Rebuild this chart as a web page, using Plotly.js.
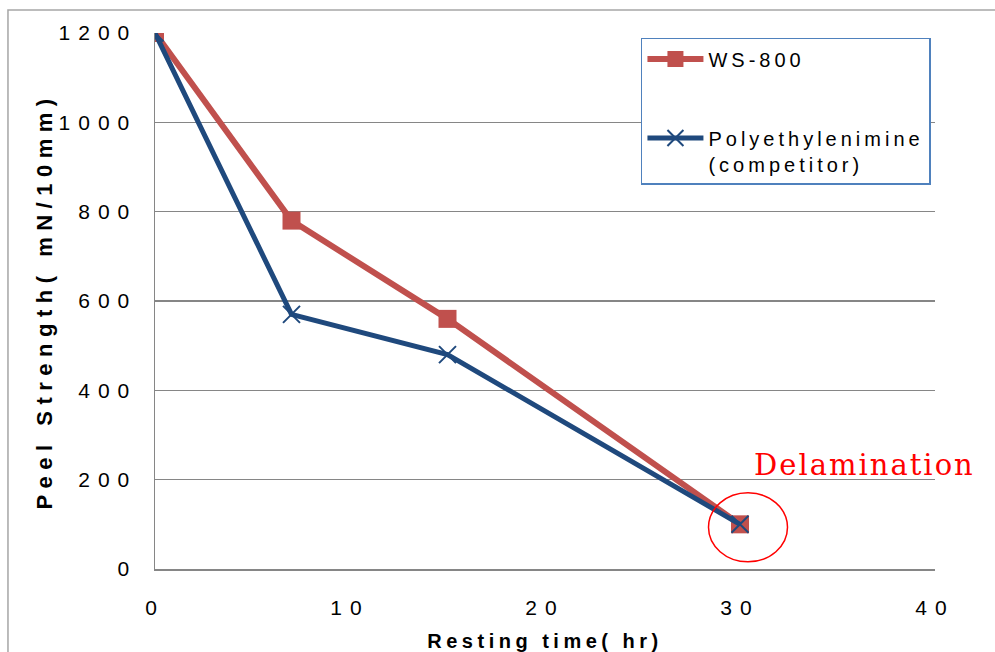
<!DOCTYPE html>
<html>
<head>
<meta charset="utf-8">
<script src="https://cdn.plot.ly/plotly-3.0.1.min.js"></script>
<style>
  html, body { margin: 0; padding: 0; background: #fff; }
  #chart { width: 995px; height: 652px; }
  .xtick text, .ytick text { letter-spacing: 8px; }
  .legendtext { letter-spacing: 4px; }
  .g-xtitle text { letter-spacing: 4.5px; }
  .g-ytitle text { letter-spacing: 6.5px; }
  .annotation-text { letter-spacing: 2px; }
</style>
</head>
<body>
<div id="chart"></div>
<script>
// Data
const restingTime = [0, 7, 15, 30];
const ws800 = [1200, 780, 560, 100];
const polyethylenimine = [1200, 570, 480, 100];
const seriesNames = ["WS-800", "Polyethylenimine<br>(competitor)"];
const xTickVals = [0, 10, 20, 30, 40];
const yTickVals = [0, 200, 400, 600, 800, 1000, 1200];
const xTitle = "Resting time( hr)";
const yTitle = "Peel Strength( mN/10mm)";
const noteText = "Delamination";

const lastIdx = restingTime.length - 1;

const traces = [
  {
    x: restingTime, y: ws800, name: seriesNames[0], type: "scatter", mode: "lines+markers",
    legendgroup: "a",
    line: { color: "#C0504D", width: 6 },
    marker: { symbol: "square", size: 18, color: "#C0504D", line: { width: 0 } }
  },
  {
    x: restingTime, y: polyethylenimine, name: seriesNames[1], type: "scatter", mode: "lines+markers",
    legendgroup: "b",
    line: { color: "#1F497D", width: 5 },
    marker: { symbol: "x-thin", size: 17, color: "#1F497D", line: { color: "#1F497D", width: 2 } }
  }
];

const layout = {
  width: 995, height: 652,
  margin: { l: 155, r: 60, t: 33, b: 83 },
  paper_bgcolor: "#fff", plot_bgcolor: "#fff",
  font: { family: "Liberation Sans, Arial, sans-serif", color: "#000" },
  showlegend: true,
  legend: {
    x: 0.623, y: 0.9907, xanchor: "left", yanchor: "top",
    bgcolor: "#fff", bordercolor: "#4F81BD", borderwidth: 1.5,
    font: { size: 20, color: "#000" },
    itemwidth: 56, tracegroupgap: 50, valign: "top"
  },
  xaxis: {
    range: [0, 40], tickvals: xTickVals, ticktext: xTickVals.map(String),
    showgrid: false, zeroline: false, showline: true, linecolor: "#868686", linewidth: 1.5,
    ticks: "", tickfont: { size: 21, color: "#000" }, ticklabelstandoff: 19,
    title: { text: xTitle, font: { size: 20, weight: "bold", color: "#000" }, standoff: 16 },
    fixedrange: true
  },
  yaxis: {
    range: [0, 1200], tickvals: yTickVals, ticktext: yTickVals.map(String),
    showgrid: true, gridcolor: "#868686", gridwidth: 1.5,
    zeroline: false, showline: true, linecolor: "#868686", linewidth: 1.5,
    ticks: "", tickfont: { size: 21, color: "#000" }, ticklabelstandoff: 12,
    title: { text: yTitle, font: { size: 22, weight: "bold", color: "#000" }, standoff: 0 },
    fixedrange: true
  },
  shapes: [
    {
      type: "rect", xref: "paper", yref: "paper",
      x0: -0.1885, x1: 1.2, y0: -0.3, y1: 1.0429,
      line: { color: "#A6A6A6", width: 1.5 }, fillcolor: "rgba(0,0,0,0)", layer: "below"
    },
    {
      type: "circle", xref: "x", yref: "y",
      xsizemode: "pixel", ysizemode: "pixel",
      xanchor: restingTime[lastIdx], yanchor: ws800[lastIdx],
      x0: -31.5, x1: 47.5, y0: -37.5, y1: 31.5,
      line: { color: "#FF0000", width: 1.5 }, fillcolor: "rgba(0,0,0,0)"
    }
  ],
  annotations: [
    {
      x: restingTime[lastIdx], y: ws800[lastIdx], xref: "x", yref: "y",
      text: noteText, showarrow: false, xanchor: "left", yanchor: "middle",
      xshift: 12, yshift: 59,
      font: { family: "DejaVu Serif, Liberation Serif, serif", size: 29, color: "#FF0000" }
    }
  ]
};

Plotly.newPlot("chart", traces, layout, { displayModeBar: false, staticPlot: true });
</script>
</body>
</html>
